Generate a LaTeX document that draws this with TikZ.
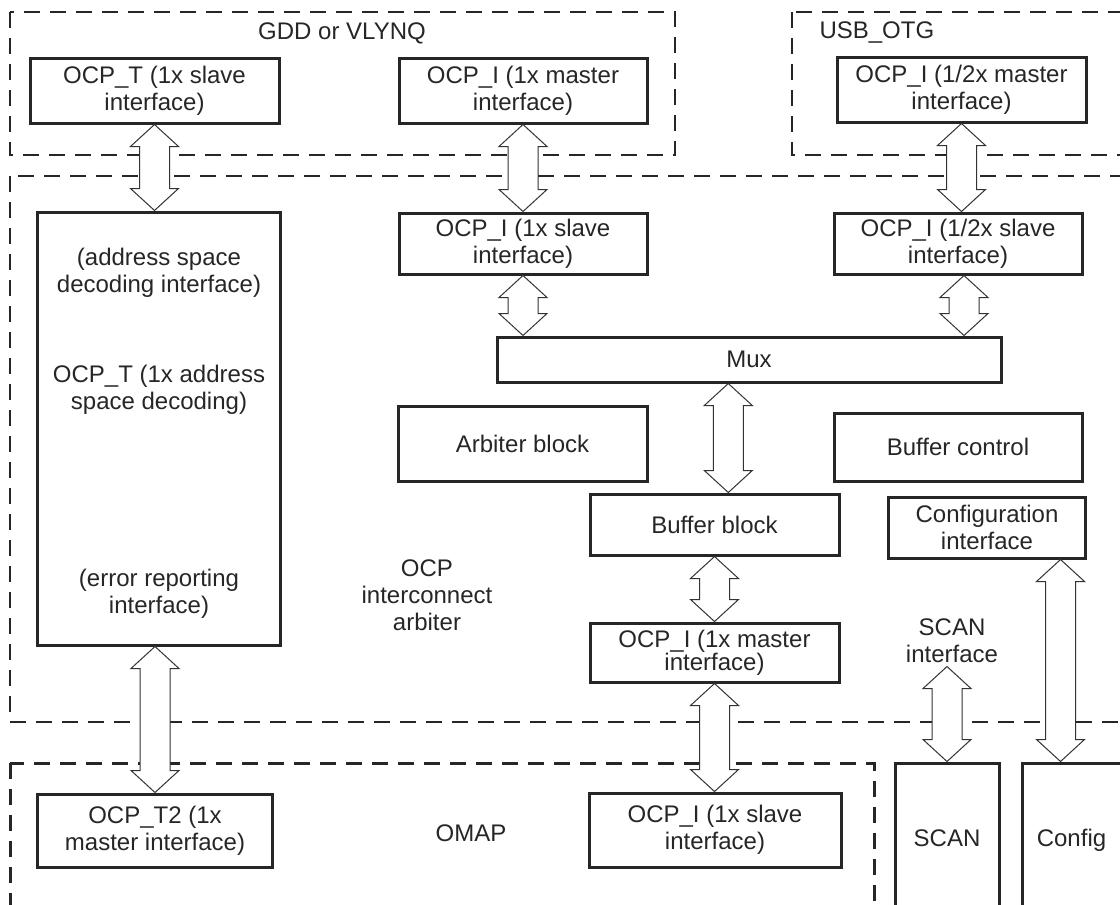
\documentclass[tikz,border=0pt]{standalone}
\usepackage{fontspec}
\setmainfont{Liberation Sans}
\usetikzlibrary{calc,positioning}

% hollow two-way arrow: x from #1, from the y of #2 down to the y of #3
\newcommand{\blockarrow}[3]{%
  \draw[twoway] let \p1=(#1), \p2=(#2), \p3=(#3) in
    (\x1,\y2) -- (\x1+24pt,\y2-22pt) -- (\x1+15pt,\y2-22pt)
    -- (\x1+15pt,\y3+22pt) -- (\x1+24pt,\y3+22pt) -- (\x1,\y3)
    -- (\x1-24pt,\y3+22pt) -- (\x1-15pt,\y3+22pt)
    -- (\x1-15pt,\y2-22pt) -- (\x1-24pt,\y2-22pt) -- cycle;}

\begin{document}
\begin{tikzpicture}[
      x=1pt,y=-1pt,
      unit/.style={
         rectangle,
         draw=black!85,
         line width=3pt,
         align=center,
         inner sep=2pt,
         font=\fontsize{24}{27}\selectfont,
         text=black!85
      },
      region/.style={
         draw=black!85,
         line width=2.5pt,
         dash pattern=on 16pt off 10pt
      },
      caption/.style={
         align=center,
         font=\fontsize{24}{27}\selectfont,
         text=black!85
      },
      twoway/.style={draw=black!80,fill=white,line width=1pt,line join=miter},
    ]
    \useasboundingbox (0,0) rectangle (1120,905);
    % dashed regions
    \draw[region] (10,12) rectangle (675,155);
    \draw[region] (792,12) rectangle (1140,155);
    \draw[region] (10,176) rectangle (1140,722);
    \draw[region,line width=3pt] (10,763) rectangle (874,920);
    \node (gddlbl) [caption] at (342,33) {GDD or VLYNQ};
    \node (usblbl) [caption,anchor=west] at (816,33) {USB\_OTG};
    \node (arblbl) [caption] at (427,595) {OCP\\interconnect\\arbiter};
    \node (omaplbl) [caption] at (471,833) {OMAP};
    \node (scanlbl) [caption] at (952,641) {SCAN\\interface};
    % blocks
    \node (gddT) [unit, minimum width=249pt, minimum height=65pt] at (154.5,90.5) {OCP\_T (1x slave\\interface)};
    \node (gddI) [unit, minimum width=248pt, minimum height=65pt] at (523,90.5) {OCP\_I (1x master\\interface)};
    \node (usbI) [unit, minimum width=249pt, minimum height=65pt] at (961.5,89.5) {OCP\_I (1/2x master\\interface)};
    \node (decode) [unit, minimum width=242.5pt, minimum height=433pt] at (158.75,428.5) {};
    \node (dec1) [caption] at (159,272.5) {(address space\\decoding interface)};
    \node (dec2) [caption] at (159,390) {OCP\_T (1x address\\space decoding)};
    \node (dec3) [caption] at (159,593.5) {(error reporting\\interface)};
    \node (arbI) [unit, minimum width=248pt, minimum height=61pt] at (523,243.5) {OCP\_I (1x slave\\interface)};
    \node (arbIh) [unit, minimum width=248pt, minimum height=61pt] at (958,243.5) {OCP\_I (1/2x slave\\interface)};
    \node (mux) [unit, minimum width=504pt, minimum height=45pt] at (749,359.5) {Mux};
    \node (arbblk) [unit, minimum width=249pt, minimum height=75pt] at (522.5,443.5) {Arbiter block};
    \node (bufctl) [unit, minimum width=248pt, minimum height=68pt] at (958,447) {Buffer control};
    \node (bufblk) [unit, minimum width=249pt, minimum height=61pt] at (714.5,524.5) {Buffer block};
    \node (cfgif) [unit, minimum width=197pt, minimum height=61pt] at (987,527.5) {Configuration\\interface};
    \node (arbM) [unit, minimum width=249pt, minimum height=59pt, font=\fontsize{24}{22}\selectfont] at (714.5,652.5) {OCP\_I (1x master\\interface)};
    \node (omapI) [unit, minimum width=252pt, minimum height=74pt] at (715,830) {OCP\_I (1x slave\\interface)};
    \node (omapT) [unit, minimum width=234.5pt, minimum height=73pt] at (155,830.5) {OCP\_T2 (1x\\master interface)};
    \node (scan) [unit, minimum width=104pt, minimum height=150pt] at (947,838) {SCAN};
    \node (config) [unit, minimum width=110pt, minimum height=150pt, text depth=0pt] at (1077.5,838) {\hspace*{-12pt}Config};
    % two-way arrows
    \blockarrow{gddT.south}{gddT.south}{decode.north};
    \blockarrow{gddI.south}{gddI.south}{arbI.north};
    \blockarrow{arbI.south}{arbI.south}{mux.north};
    \blockarrow{usbI.south}{usbI.south}{arbIh.north};
    \blockarrow{$(arbIh.south)+(6,0)$}{arbIh.south}{mux.north};
    \blockarrow{$(mux.south)!.6!(bufblk.north)$}{mux.south}{bufblk.north};
    \blockarrow{bufblk.south}{bufblk.south}{arbM.north};
    \blockarrow{arbM.south}{arbM.south}{omapI.north};
    \blockarrow{omapT.north}{decode.south}{omapT.north};
    \blockarrow{scan.north}{scanlbl.south}{scan.north};
    \blockarrow{$(config.north)+(-17,0)$}{cfgif.south}{config.north};
\end{tikzpicture}
\end{document}
